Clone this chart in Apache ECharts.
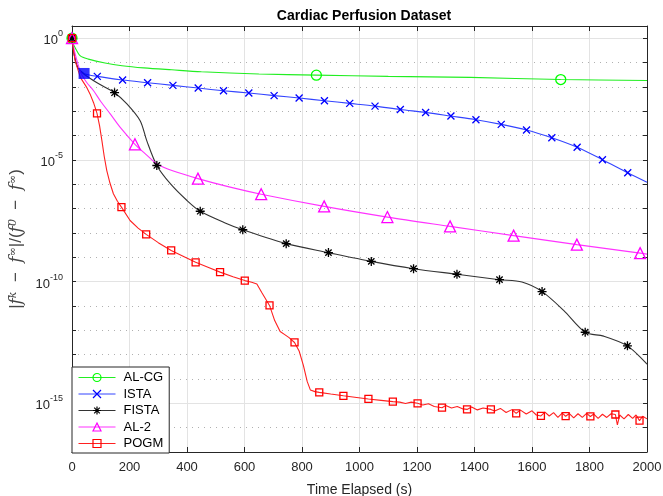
<!DOCTYPE html>
<html>
<head>
<meta charset="utf-8">
<script src="https://cdn.jsdelivr.net/npm/echarts@6/dist/echarts.min.js"></script>
<style>
  html, body { margin: 0; padding: 0; background: #fff; }
  #main { width: 663px; height: 496px; }
</style>
</head>
<body>
<div id="main"></div>
<script>
  // tick values
  var yMajorTicks = [1e-15, 1e-10, 1e-5, 1];

  // AL-CG
  var alcgTime = [0, 3, 11, 29, 57, 115, 174, 250, 347, 450, 650, 850, 1100, 1385, 1700, 2000];
  var alcgCost = [1, 0.631, 0.407, 0.186, 0.138, 0.0955, 0.0741, 0.0603, 0.0501, 0.0417, 0.0339, 0.0302, 0.0269, 0.0245, 0.0200, 0.0182];
  var alcgMarks = [0, 850, 1700];

  // ISTA
  var istaTime = [0, 8, 20, 42, 88, 176, 263, 351, 439, 527, 615, 703, 790, 878, 966, 1054, 1142, 1230, 1318, 1405, 1493, 1581, 1669, 1757, 1845, 1933, 2000];
  var istaCost = [1, 0.200, 0.0631, 0.0355, 0.0269, 0.0191, 0.0148, 0.0115, 0.00891, 0.00692, 0.00562, 0.00437, 0.00347, 0.00269, 0.00209, 0.00162, 0.00117, 8.91e-4, 6.31e-4, 4.47e-4, 2.88e-4, 1.70e-4, 8.13e-5, 3.31e-5, 1.02e-5, 2.95e-6, 1.20e-6];
  var istaMarks = [0, 88, 176, 263, 351, 439, 527, 615, 703, 790, 878, 966, 1054, 1142, 1230, 1318, 1405, 1493, 1581, 1669, 1757, 1845, 1933];

  // FISTA
  var fistaTime = [0, 8, 20, 42, 90, 148, 191, 237, 260, 295, 342, 400, 446, 539, 594, 745, 892, 1041, 1188, 1339, 1487, 1565, 1635, 1710, 1785, 1849, 1932, 2000];
  var fistaCost = [1, 0.2, 0.0631, 0.0331, 0.0141, 0.00575, 0.002, 4.07e-4, 6.17e-5, 5.89e-6, 1.05e-6, 2.14e-7, 7.76e-8, 2.40e-8, 1.35e-8, 3.63e-9, 1.55e-9, 6.76e-10, 3.39e-10, 2.00e-10, 1.20e-10, 9.55e-11, 3.89e-11, 6.61e-12, 8.32e-13, 5.75e-13, 2.29e-13, 4.07e-14];
  var fistaMarks = [0, 148, 295, 446, 594, 745, 892, 1041, 1188, 1339, 1487, 1635, 1785, 1932];

  // AL-2
  var al2Time = [0, 10, 30, 50, 75, 100, 133, 170, 219, 260, 295, 350, 438, 550, 658, 877, 1097, 1315, 1536, 1756, 1976, 2000];
  var al2Cost = [1, 0.251, 0.0398, 0.0158, 0.00692, 0.00251, 7.76e-4, 2.00e-4, 4.37e-5, 1.58e-5, 6.92e-6, 3.55e-6, 1.70e-6, 7.59e-7, 3.89e-7, 1.23e-7, 4.47e-8, 1.86e-8, 7.76e-9, 3.31e-9, 1.48e-9, 1.35e-9];
  var al2Marks = [0, 219, 438, 658, 877, 1097, 1315, 1536, 1756, 1976];

  // POGM
  var pogmTime = [0, 5, 11, 29, 50, 63, 75, 87, 96, 104, 112, 121, 132, 144, 158, 172, 202, 230, 258, 300,
    345, 390, 430, 475, 515, 560, 601, 625, 643, 660, 687, 705, 724, 740, 755, 774, 790, 805, 818, 829,
    845, 860, 900, 944, 990, 1031, 1075, 1116, 1140, 1160, 1180, 1202, 1220, 1240, 1260, 1287, 1300, 1320,
    1340, 1360, 1374, 1390, 1410, 1430, 1457, 1470, 1490, 1510, 1530, 1545, 1560, 1580, 1600, 1615, 1631,
    1645, 1660, 1675, 1690, 1705, 1717, 1730, 1745, 1760, 1775, 1790, 1803, 1815, 1830, 1845, 1860, 1875,
    1890, 1897, 1905, 1920, 1935, 1950, 1962, 1974, 1985, 2000];
  var pogmCost = [1, 0.316, 0.117, 0.0245, 0.01, 0.00501, 0.00224, 8.13e-4, 2.51e-4, 6.17e-5, 1.41e-5, 3.63e-6, 1.12e-6, 4.07e-7, 2.0e-7, 1.15e-7, 3.24e-8, 1.58e-8, 8.71e-9, 3.98e-9,
    1.91e-9, 1.05e-9, 6.17e-10, 3.80e-10, 2.45e-10, 1.58e-10, 1.10e-10, 9.33e-11, 7.94e-11, 3.55e-11, 1.05e-11, 2.51e-12, 8.91e-13, 6.61e-13, 5.01e-13, 3.16e-13, 1.41e-13, 3.55e-14, 7.94e-15, 3.55e-15,
    3.02e-15, 2.82e-15, 2.40e-15, 2.04e-15, 1.74e-15, 1.51e-15, 1.32e-15, 1.17e-15, 1.12e-15, 0.98e-15, 1.12e-15, 1.0e-15, 8.51e-16, 9.55e-16, 7.41e-16, 6.61e-16, 8.13e-16, 6.46e-16,
    7.41e-16, 5.89e-16, 5.62e-16, 7.08e-16, 5.37e-16, 6.46e-16, 5.62e-16, 4.79e-16, 6.17e-16, 4.17e-16, 5.50e-16, 3.89e-16, 5.25e-16, 3.63e-16, 4.90e-16, 3.31e-16, 3.02e-16,
    4.37e-16, 3.02e-16, 4.17e-16, 2.63e-16, 3.98e-16, 2.95e-16, 3.80e-16, 2.51e-16, 3.72e-16, 2.63e-16, 3.89e-16, 2.88e-16, 3.63e-16, 2.40e-16, 3.55e-16, 2.63e-16, 3.72e-16,
    3.47e-16, 1.29e-16, 3.31e-16, 2.29e-16, 3.47e-16, 2.40e-16, 3.31e-16, 1.95e-16, 2.95e-16, 2.29e-16];
  var pogmMarks = [0, 87, 172, 258, 345, 430, 515, 601, 687, 774, 860, 944, 1031, 1116, 1202, 1287, 1374, 1457, 1545, 1631, 1717, 1803, 1890, 1974];

  // filled blue square
  var squareTime = [42];
  var squareCost = [0.0355];

  var font = 'Liberation Sans, Arial, Helvetica, sans-serif';
  var axisColor = '#262626';

  function buildData(time, cost, marks) {
    return time.map(function (t, i) {
      if (marks.indexOf(t) >= 0) return [t, cost[i]];
      return { value: [t, cost[i]], symbol: 'none' };
    });
  }

  function isMajor(v) {
    var e = Math.log10(v);
    var r = Math.round(e);
    return Math.abs(e - r) < 1e-6 && r % 5 === 0;
  }

  function lineSeries(name, time, cost, marks, color, lineColor, symbol, size, smooth, hollow) {
    return {
      name: name,
      type: 'line',
      xAxisIndex: 0,
      yAxisIndex: 0,
      data: buildData(time, cost, marks),
      smooth: smooth,
      showSymbol: true,
      showAllSymbol: true,
      symbol: symbol,
      symbolSize: size,
      lineStyle: { color: lineColor, width: 1.1 },
      itemStyle: {
        color: hollow ? 'rgba(255,255,255,0)' : color,
        borderColor: color,
        borderWidth: 1.3
      },
      emphasis: { disabled: true }
    };
  }

  var yBase = {
    type: 'log',
    logBase: 10,
    min: 1e-17,
    max: Math.sqrt(10),
    interval: 1
  };

  var chart = echarts.init(document.getElementById('main'));
  chart.setOption({
    animation: false,
    backgroundColor: '#fff',
    textStyle: { fontFamily: font },
    title: {
      text: 'Cardiac Perfusion Dataset',
      left: 359,
      top: 4,
      textAlign: 'center',
      textStyle: { fontFamily: font, fontSize: 14, fontWeight: 'bold', color: '#000' }
    },
    grid: { left: 72, right: 16, top: 26, bottom: 44, outerBoundsMode: 'none', containLabel: false },
    legend: {
      orient: 'vertical',
      left: 72,
      top: 367,
      padding: [4, 6, 3, 6],
      itemWidth: 37,
      itemHeight: 10,
      itemGap: 3.5,
      backgroundColor: '#fff',
      borderColor: axisColor,
      borderWidth: 1,
      borderRadius: 0,
      lineStyle: { width: 1 },
      itemStyle: { borderWidth: 1.2 },
      textStyle: { fontFamily: font, fontSize: 13, lineHeight: 13, color: '#000', padding: [0, 0, 0, 3] },
      data: ['AL-CG', 'ISTA', 'FISTA', 'AL-2', 'POGM']
    },
    xAxis: [
      {
        type: 'value',
        min: 0,
        max: 2000,
        interval: 200,
        name: 'Time Elapsed (s)',
        nameLocation: 'middle',
        nameGap: 31,
        nameTextStyle: { fontFamily: font, fontSize: 14, color: axisColor },
        axisLine: { show: true, lineStyle: { color: axisColor, width: 1 } },
        axisTick: { show: true, inside: true, length: 5, lineStyle: { color: axisColor } },
        axisLabel: {
          fontFamily: font, fontSize: 13, color: axisColor, margin: 9,
          formatter: function (v) { return String(v); }
        },
        splitLine: { show: true, lineStyle: { color: '#e3e3e3', width: 1 } }
      },
      {
        type: 'value',
        position: 'top',
        min: 0,
        max: 2000,
        interval: 200,
        axisLine: { show: true, onZero: false, lineStyle: { color: axisColor, width: 1 } },
        axisTick: { show: true, inside: true, length: 5, lineStyle: { color: axisColor } },
        axisLabel: { show: false },
        splitLine: { show: false }
      }
    ],
    yAxis: [
      Object.assign({}, yBase, {
        position: 'left',
        name: '|{i|f}{s|k}  −  {i|f}{s|∞}|/({i|f}{s|0}  −  {i|f}{s|∞})',
        nameLocation: 'middle',
        nameGap: 41,
        nameTextStyle: {
          fontFamily: font, fontSize: 17, color: '#444',
          rich: {
            i: { fontFamily: 'DejaVu Serif, serif', fontSize: 17, fontStyle: 'italic', color: '#444' },
            s: { fontFamily: 'DejaVu Serif, serif', fontSize: 11, fontStyle: 'italic', color: '#444', verticalAlign: 'top', lineHeight: 14 }
          }
        },
        axisLine: { show: true, onZero: false, lineStyle: { color: axisColor, width: 1 } },
        axisTick: { show: true, inside: true, length: 4, lineStyle: { color: axisColor } },
        axisLabel: {
          margin: 9,
          formatter: function (v) {
            if (!isMajor(v)) return '';
            return '{b|10}{s|' + Math.round(Math.log10(v)) + '}';
          },
          rich: {
            b: { fontFamily: font, fontSize: 13, color: axisColor, lineHeight: 18, verticalAlign: 'bottom' },
            s: { fontFamily: font, fontSize: 9, color: axisColor, lineHeight: 18, verticalAlign: 'top' }
          }
        },
        splitLine: { show: true, lineStyle: { color: '#b0b0b0', width: 1, type: [1, 5] } }
      }),
      Object.assign({}, yBase, {
        position: 'left',
        axisLine: { show: false },
        axisTick: { show: false, customValues: yMajorTicks },
        axisLabel: { show: false, customValues: yMajorTicks },
        splitLine: { show: true, lineStyle: { color: '#e3e3e3', width: 1 } }
      }),
      Object.assign({}, yBase, {
        position: 'right',
        axisLine: { show: true, onZero: false, lineStyle: { color: axisColor, width: 1 } },
        axisTick: { show: true, inside: true, length: 4, lineStyle: { color: axisColor } },
        axisLabel: { show: false },
        splitLine: { show: false }
      })
    ],
    series: [
      lineSeries('AL-CG', alcgTime, alcgCost, alcgMarks, '#00ff00', '#22ee22', 'circle', 10, 0.3, true),
      lineSeries('ISTA', istaTime, istaCost, istaMarks, '#0000ff', '#3344ff', 'path://M0,0L10,10M10,0L0,10', 7, 0.3, false),
      lineSeries('FISTA', fistaTime, fistaCost, fistaMarks, '#000000', '#333333', 'path://M5,0L5,10M0,5L10,5M1.5,1.5L8.5,8.5M8.5,1.5L1.5,8.5', 9, 0.3, false),
      lineSeries('AL-2', al2Time, al2Cost, al2Marks, '#ff00ff', '#ff33ff', 'triangle', 11, 0.3, true),
      lineSeries('POGM', pogmTime, pogmCost, pogmMarks, '#ff0000', '#ff2020', 'rect', 7, false, true),
      {
        name: 'start',
        type: 'scatter',
        xAxisIndex: 0,
        yAxisIndex: 0,
        z: 5,
        data: squareTime.map(function (t, i) { return [t, squareCost[i]]; }),
        symbol: 'rect',
        symbolSize: 11,
        itemStyle: { color: '#0000ff' },
        emphasis: { disabled: true }
      }
    ]
  });
</script>
</body>
</html>
